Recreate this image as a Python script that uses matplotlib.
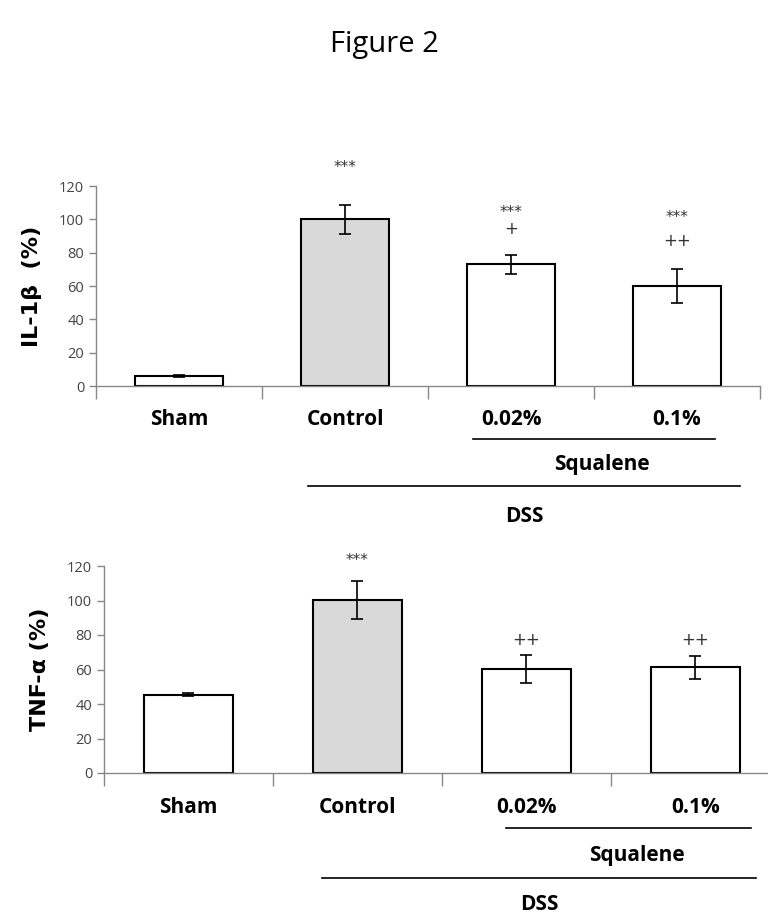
import matplotlib
matplotlib.use('Agg')
import matplotlib.pyplot as plt

plt.rcParams['font.family'] = ['Liberation Sans Narrow', 'Open Sans', 'DejaVu Sans']

groups = ['Sham', 'Control', '0.02%', '0.1%']
fills = ['white', '#d9d9d9', 'white', 'white']

il1b_mean = [6, 100, 73, 60]
il1b_err = [0.8, 8.5, 5.5, 10]
il1b_marks = [[], ['***'], ['***', '+'], ['***', '++']]
il1b_mark_y = [[], [131], [104, 94], [101, 87]]

tnf_mean = [45.5, 100.5, 60.3, 61.2]
tnf_err = [0.6, 11, 8.2, 6.8]
tnf_marks = [[], ['***'], ['++'], ['++']]
tnf_mark_y = [[], [123], [77], [77]]

yticks = [0, 20, 40, 60, 80, 100, 120]

fig = plt.figure(figsize=(7.68, 9.19), dpi=100)
fig.text(0.5, 0.952, 'Figure 2', ha='center', va='center', fontsize=21,
         family=['Open Sans', 'DejaVu Sans'])


def panel(rect, means, errs, marks, mark_y, ylabel, xmax, lab_y, sq_line, sq_y, dss_line, dss_y):
    ax = fig.add_axes(rect)
    x = [i + 0.5 for i in range(len(groups))]
    ax.bar(x, means, width=0.53, color=fills, edgecolor='black', linewidth=1.5, zorder=2)
    ax.errorbar(x, means, yerr=errs, fmt='none', ecolor='black', elinewidth=1.2,
                capsize=4, capthick=1.2, zorder=3)
    for xi, mk, my in zip(x, marks, mark_y):
        for m, yy in zip(mk, my):
            ax.text(xi, yy, m, ha='center', va='center', fontsize=11 if '*' in m else 12,
                    color='#333333', family='DejaVu Sans')
    ax.set_xlim(0, xmax)
    ax.set_ylim(0, 120)
    ax.set_yticks(yticks)
    ax.set_xticks([0, 1, 2, 3, 4] if xmax >= 4 else [0, 1, 2, 3])
    ax.set_xticklabels([])
    ax.tick_params(axis='x', direction='out', length=9, color='#888888', width=1)
    ax.tick_params(axis='y', direction='out', length=5, color='#888888', width=1,
                   labelsize=10.5, labelcolor='#444444')
    for s in ['top', 'right']:
        ax.spines[s].set_visible(False)
    for s in ['left', 'bottom']:
        ax.spines[s].set_color('#888888')
        ax.spines[s].set_linewidth(1)
    ax.set_ylabel(ylabel, fontsize=16, fontweight='bold', family='DejaVu Sans', labelpad=12)

    for xi, g in zip(x, groups):
        ax.text(xi, lab_y, g, ha='center', va='center', fontsize=15, fontweight='bold',
                clip_on=False)
    ax.plot(sq_line, [lab_y - 12, lab_y - 12], color='black', lw=1.2, clip_on=False)
    ax.text(sum(sq_line) / 2 + 0.05, sq_y, 'Squalene', ha='center', va='center', fontsize=15,
            fontweight='bold', clip_on=False)
    ax.plot(dss_line, [sq_y - 13, sq_y - 13], color='black', lw=1.2, clip_on=False)
    ax.text(sum(dss_line) / 2, dss_y, 'DSS', ha='center', va='center', fontsize=15,
            fontweight='bold', clip_on=False)
    return ax


panel([96 / 768, 1 - 386 / 919, 664 / 768, 200 / 919], il1b_mean, il1b_err, il1b_marks,
      il1b_mark_y, 'IL-1β  (%)', 4.0, -20, [2.27, 3.73], -47, [1.28, 3.88], -78)

panel([104 / 768, 1 - 773 / 919, 664 / 768, 207 / 919], tnf_mean, tnf_err, tnf_marks,
      tnf_mark_y, 'TNF-α (%)', 3.93, -20, [2.38, 3.83], -48, [1.29, 3.86], -76)

fig.savefig('out.png', dpi=100)
